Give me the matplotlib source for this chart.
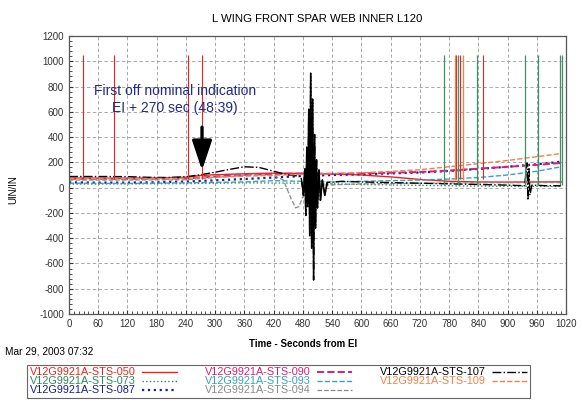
import numpy as np
import matplotlib.pyplot as plt
from matplotlib.ticker import MultipleLocator

plt.rcParams["font.family"] = ["Liberation Sans", "DejaVu Sans"]
plt.rcParams["axes.unicode_minus"] = False

# --- series (time in s from EI, strain in uin/in) ---
red_t = [0, 60, 120, 180, 240, 270, 300, 360, 420, 480, 540, 600, 660, 720, 780, 840, 900, 960, 1010]
red_v = [76, 75, 74, 76, 82, 96, 102, 110, 115, 112, 108, 100, 85, 65, 50, 45, 44, 45, 46]
red_spikes = [29, 93, 245, 272, 795, 802, 849]

green_t = [0, 120, 240, 360, 480, 600, 720, 840, 960, 1010]
green_v = [28, 30, 32, 38, 35, 25, 18, 12, 10, 10]
green_spikes = [770, 798, 837, 936, 962, 1008, 1011]

navy_t = [0, 60, 120, 180, 240, 300, 360, 420, 480, 540, 600, 660, 720, 780, 840, 900, 960, 1010]
navy_v = [42, 40, 40, 42, 48, 58, 68, 80, 92, 100, 106, 112, 120, 132, 148, 165, 185, 205]

magenta_t = [0, 120, 240, 300, 360, 420, 480, 540, 600, 660, 720, 780, 840, 900, 960, 1010]
magenta_v = [70, 70, 72, 88, 100, 108, 112, 110, 112, 118, 124, 135, 150, 165, 180, 195]

teal_t = [0, 120, 240, 360, 420, 480, 540, 600, 660, 720, 780, 840, 900, 960, 1010]
teal_v = [35, 33, 38, 45, 55, 50, 45, 50, 55, 60, 68, 80, 100, 130, 165]

grey_t = [0, 120, 240, 330, 380, 420, 440, 455, 465, 472, 480, 520, 600, 720, 840, 960, 1010]
grey_v = [60, 60, 62, 90, 105, 95, 60, -80, -160, -150, -70, 20, 30, 35, 38, 40, 40]

black_t = [0, 60, 120, 160, 200, 240, 270, 300, 330, 360, 390, 420, 450, 476,
           478, 481, 484, 486, 488, 490, 492, 494, 496, 498, 500, 502, 504, 506,
           508, 510, 513, 516, 520, 525, 530, 560, 600, 660, 720, 780, 840, 900,
           935, 940, 942, 944, 946, 950, 980, 1010]
black_v = [88, 88, 87, 82, 80, 86, 102, 122, 145, 165, 160, 130, 100, 90,
           40, -60, 150, -220, 320, -150, 620, -380, 905, -480, 700, -730, 420, -320,
           220, -160, 140, -100, 60, -60, 40, 50, 45, 40, 35, 30, 25, 20,
           15, 195, -100, 150, -60, 20, 15, 15]

orange_t = [0, 120, 240, 360, 480, 600, 660, 720, 780, 840, 900, 960, 1010]
orange_v = [72, 72, 74, 90, 105, 118, 128, 142, 165, 190, 215, 245, 270]
orange_spikes = [793, 808]

spike_top = 1050

fig = plt.figure(figsize=(5.82, 4.03), dpi=100)
ax = fig.add_axes([69 / 582, 1 - 314 / 403, 497 / 582, 278 / 403])

ax.plot(red_t, red_v, color="#e8231f", lw=1.0, label="V12G9921A-STS-050")
ax.plot(green_t, green_v, color="#2e8b57", lw=1.0, ls=":", label="V12G9921A-STS-073")
ax.plot(navy_t, navy_v, color="#1c1f8f", lw=1.6, ls=":", label="V12G9921A-STS-087")
ax.plot(magenta_t, magenta_v, color="#d8207a", lw=1.4, ls="--", label="V12G9921A-STS-090")
ax.plot(teal_t, teal_v, color="#35a3c0", lw=1.0, ls="--", label="V12G9921A-STS-093")
ax.plot(grey_t, grey_v, color="#8a8a8a", lw=0.9, ls="--", label="V12G9921A-STS-094")
ax.plot(black_t, black_v, color="black", lw=1.0, ls="-.", label="V12G9921A-STS-107")
ax.plot(orange_t, orange_v, color="#f0834a", lw=1.0, ls="--", label="V12G9921A-STS-109")

# solid black core of the big oscillation around 500 s
ax.plot(black_t[14:35], black_v[14:35], color="black", lw=1.1)

ax.vlines(red_spikes, 70, spike_top, color="#e8231f", lw=0.8)
ax.vlines(green_spikes, 20, spike_top, color="#3f8f6a", lw=0.9)
ax.vlines(orange_spikes, 60, spike_top, color="#f0834a", lw=0.9)

ax.set_xlim(0, 1020)
ax.set_ylim(-1000, 1200)
ax.set_xticks(np.arange(0, 1021, 60))
ax.set_yticks(np.arange(-1000, 1201, 200))
ax.xaxis.set_minor_locator(MultipleLocator(10))
ax.yaxis.set_minor_locator(MultipleLocator(40))
ax.tick_params(which="both", direction="in", labelsize=7, colors="#333333")
ax.tick_params(which="minor", length=2)
ax.tick_params(which="major", length=3)
ax.grid(True, which="major", ls=(0, (4, 3)), color="#9a9a9a", lw=0.6)
for s in ax.spines.values():
    s.set_color("#555555")
    s.set_linewidth(0.9)

ax.set_title("L WING FRONT SPAR WEB INNER L120", fontsize=8.2, pad=10)
ax.set_xlabel("Time - Seconds from EI", fontsize=7, fontweight="bold")
ax.xaxis.set_label_coords(0.47, -0.09)
ax.set_ylabel("UIN/IN", fontsize=7)
ax.yaxis.set_label_coords(-0.103, 0.446)

ax.text(217, 698, "First off nominal indication\nEI + 270 sec (48:39)",
        ha="center", va="center", fontsize=10, color="#1f2a8a", linespacing=1.2)
ax.annotate("", xy=(273, 115), xytext=(273, 500),
            arrowprops=dict(arrowstyle="-|>,head_width=0.3,head_length=0.9",
                            mutation_scale=20, color="black", lw=2.4))

fig.text(0.008, 1 - 352 / 403, "Mar 29, 2003 07:32", fontsize=7.3, va="center")

leg = ax.legend(loc="lower left", bbox_to_anchor=(27 / 582, 5 / 403),
                bbox_transform=fig.transFigure, borderaxespad=0, ncol=3,
                markerfirst=False, labelcolor="linecolor", fontsize=7.8,
                handlelength=3.2, handletextpad=0.6, columnspacing=2.6,
                labelspacing=-0.1, borderpad=0.25,
                fancybox=False, edgecolor="#666666", framealpha=1)
leg.get_frame().set_linewidth(0.8)

fig.savefig("out.png", dpi=100)
